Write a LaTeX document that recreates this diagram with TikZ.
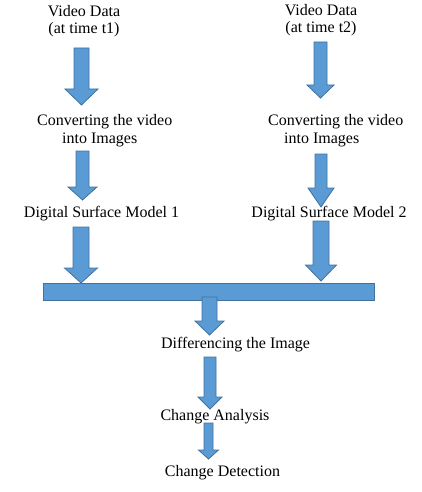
\documentclass[tikz,border=0pt]{standalone}
\usepackage{fontspec}
\setmainfont{Liberation Serif}
\definecolor{arrfill}{HTML}{5B9BD5}
\definecolor{arrline}{HTML}{41719C}
\newcommand\myarrow[6]{%
 \filldraw[blk] (#1-#3,#2) -- (#1+#3,#2) -- (#1+#3,#4) -- (#1+#5,#4) -- (#1,#6) -- (#1-#5,#4) -- (#1-#3,#4) -- cycle;}
\begin{document}
\begin{tikzpicture}[x=1pt,y=-1pt,
  lbl/.style={font=\fontsize{16}{17.5}\selectfont, inner sep=0pt, anchor=base},
  blk/.style={fill=arrfill, draw=arrline, line width=0.8pt}]
\useasboundingbox (0,0) rectangle (422,492);
% texts (multi-line nodes: base = last line)
\node[lbl, align=center] (v1) at (84,34) {Video Data\\(at time t1)};
\node[lbl, align=center] (v2) at (321,33) {Video Data\\(at time t2)};
\node[lbl, align=left, anchor=base west] (c1) at (37,143) {Converting the video\\\hspace*{25pt}into Images};
\node[lbl, align=left, anchor=base west] (c2) at (268,143) {Converting the video\\\hspace*{16pt}into Images};
\node[lbl] (d1) at (101.5,217) {Digital Surface Model 1};
\node[lbl] (d2) at (329,217) {Digital Surface Model 2};
\node[lbl] (diff) at (235.5,348) {Differencing the Image};
\node[lbl] (ca) at (215,420) {Change Analysis};
\node[lbl] (cd) at (222.5,476) {Change Detection};
% bar
\filldraw[blk] (43,283) rectangle (374,300);
% arrows
\myarrow{81.5}{48}{7.5}{89}{16.5}{105}
\myarrow{320.5}{42}{6.5}{85}{13.5}{98}
\myarrow{82.5}{151}{6.5}{187}{14.5}{200}
\myarrow{321}{154}{6}{188}{13}{207}
\myarrow{81}{227}{8}{268}{16.5}{283}
\myarrow{321}{221}{8}{265}{15.5}{281}
\myarrow{209.5}{297}{7.5}{321}{14.5}{335}
\myarrow{210}{357}{6}{397}{12}{409}
\myarrow{208.5}{423}{4.5}{450}{10}{459}
\end{tikzpicture}
\end{document}
